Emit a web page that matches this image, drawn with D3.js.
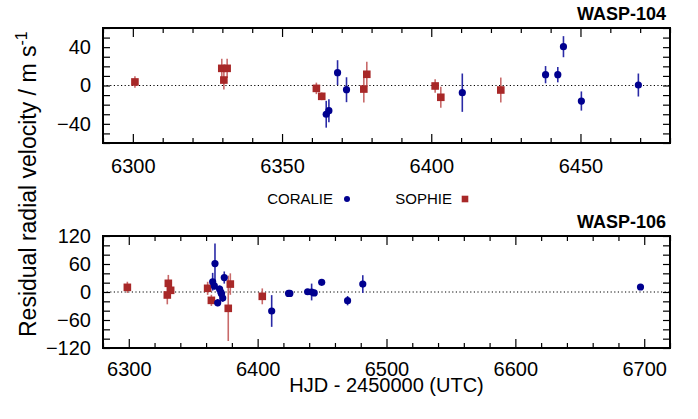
<!DOCTYPE html>
<html><head><meta charset="utf-8">
<script src="https://cdn.jsdelivr.net/npm/d3@7"></script>
<style>
html,body{margin:0;padding:0;background:#fff;}
svg{display:block;font-family:"Liberation Sans",Arial,Helvetica,sans-serif;}
</style></head>
<body><svg id="c" width="698" height="419"></svg>
<script>
// ---- Data ----
// WASP-104 (top panel)
const w104CoralieT   = [6364.8, 6365.7, 6368.6, 6371.6, 6410.4, 6438.3, 6442.4, 6444.3, 6450.3, 6469.4];
const w104CoralieRV  = [-30, -26.3, 13.4, -4.4, -7.5, 11.3, 11.3, 40.5, -16.2, 0.5];
const w104CoralieErr = [14, 12, 13, 13, 20, 9, 8, 11, 10, 12];
const w104SophieT    = [6300.7, 6329.8, 6331.6, 6330.5, 6361.5, 6363.3, 6377.4, 6378.4, 6401.3, 6403.2, 6423.3];
const w104SophieRV   = [3.7, 17.9, 17.9, 5.7, -3, -11.3, -3.7, 11.7, -0.5, -12.3, -4.7];
const w104SophieErr  = [6, 10, 10, 10, 6, 4, 14, 13, 7, 11, 13];
// WASP-106 (bottom panel)
const w106CoralieT   = [6365.1, 6366.4, 6366.9, 6370.5, 6371.5, 6372.9, 6369.0, 6374.1, 6372.0, 6410.9, 6424.0, 6425.0, 6438.8, 6441.9, 6443.9, 6449.7, 6469.8, 6481.6, 6697.1];
const w106CoralieRV  = [22, 13, 61, 6, -1, -13, -23, 31, -4, -40.7, -3, -3, 0.5, 0, -2, 20.7, -18.6, 17, 10.7];
const w106CoralieErr = [19, 8, 43, 8, 6, 8, 8, 13, 6, 34, 4, 4, 5, 18, 5, 5, 10, 19, 4];
const w106SophieT    = [6298.9, 6330.7, 6329.9, 6332.5, 6361.2, 6364.1, 6378.8, 6377.2, 6403.6];
const w106SophieRV   = [10, 18.6, -6.4, 3.6, 7.9, -17.9, 17, -35, -9.3];
const w106SophieErr  = [12, 18, 20, 8, 14, 12, 23, 70, 17];
// Axes
const topXDomain = [6290, 6480], topXTicks = [6300, 6350, 6400, 6450];
const topYDomain = [-60, 60],   topYTicks = [-40, 0, 40];
const botXDomain = [6280, 6720], botXTicks = [6300, 6400, 6500, 6600, 6700];
const botYDomain = [-120, 120], botYTicks = [-120, -60, 0, 60, 120];
const titles = ["WASP-104", "WASP-106"];
const seriesNames = ["CORALIE", "SOPHIE"];
const xTitle = "HJD - 2450000 (UTC)";

// ---- Drawing ----
const svg = d3.select("#c");
const BLUE = "#00008f", BLUE_E = "#2a2aa6", RED = "#a82828", RED_E = "#c86a6a";
const L = 103, R = 670;

function panel(cfg) {
  const x = d3.scaleLinear().domain(cfg.xd).range([L, R]);
  const y = d3.scaleLinear().domain(cfg.yd).range([cfg.bottom, cfg.top]);
  const g = svg.append("g");
  g.append("line").attr("x1", L).attr("x2", R).attr("y1", y(0)).attr("y2", y(0))
    .attr("stroke", "#000").attr("stroke-width", 1).attr("stroke-dasharray", "1.2,2.4");
  const xMinor = d3.range(cfg.xd[0], cfg.xd[1] + 0.001, cfg.xMinorStep).filter(v => !cfg.xt.includes(v));
  const yMinor = d3.range(cfg.yd[0], cfg.yd[1] + 0.001, cfg.yMinorStep).filter(v => !cfg.yt.includes(v));
  const axB = d3.axisBottom(x).tickValues(cfg.xt).tickSize(-9).tickPadding(cfg.xPad).tickFormat(d3.format("d"));
  const axBm = d3.axisBottom(x).tickValues(xMinor).tickSize(-5).tickFormat("");
  const axT = d3.axisTop(x).tickValues(cfg.xt).tickSize(-9).tickFormat("");
  const axTm = d3.axisTop(x).tickValues(xMinor).tickSize(-5).tickFormat("");
  const axL = d3.axisLeft(y).tickValues(cfg.yt).tickSize(-7).tickPadding(12).tickFormat(d3.format("d"));
  const axLm = d3.axisLeft(y).tickValues(yMinor).tickSize(-7).tickFormat("");
  const axR = d3.axisRight(y).tickValues(cfg.yt).tickSize(-7).tickFormat("");
  const axRm = d3.axisRight(y).tickValues(yMinor).tickSize(-7).tickFormat("");
  const add = (ax, tr) => {
    const a = g.append("g").attr("transform", tr).call(ax);
    a.select(".domain").remove();
    a.selectAll("line").attr("stroke", "#000").attr("stroke-width", 1.2);
    a.selectAll("text").attr("fill", "#000").style("font-size", "20px");
    return a;
  };
  add(axB, `translate(0,${cfg.bottom})`);
  add(axBm, `translate(0,${cfg.bottom})`);
  add(axT, `translate(0,${cfg.top})`);
  add(axTm, `translate(0,${cfg.top})`);
  add(axL, `translate(${L},0)`);
  add(axLm, `translate(${L},0)`);
  add(axR, `translate(${R},0)`);
  add(axRm, `translate(${R},0)`);
  g.append("rect").attr("x", L).attr("y", cfg.top).attr("width", R - L).attr("height", cfg.bottom - cfg.top)
    .attr("fill", "none").attr("stroke", "#000").attr("stroke-width", 2);

  const mk = g.append("g");
  function series(T, V, E, col, ecol, shape) {
    const d = T.map((t, i) => ({t, v: V[i], e: E[i]}));
    mk.selectAll(null).data(d).enter().append("line")
      .attr("x1", p => x(p.t)).attr("x2", p => x(p.t))
      .attr("y1", p => y(Math.max(p.v - p.e, cfg.yd[0]))).attr("y2", p => y(Math.min(p.v + p.e, cfg.yd[1])))
      .attr("stroke", ecol).attr("stroke-width", 1.6);
    if (shape === "circle") {
      mk.selectAll(null).data(d).enter().append("circle")
        .attr("cx", p => x(p.t)).attr("cy", p => y(p.v)).attr("r", 3.6).attr("fill", col);
    } else {
      mk.selectAll(null).data(d).enter().append("rect")
        .attr("x", p => x(p.t) - 3.8).attr("y", p => y(p.v) - 3.8).attr("width", 7.6).attr("height", 7.6).attr("fill", col);
    }
  }
  series(cfg.sT, cfg.sV, cfg.sE, RED, RED_E, "square");
  series(cfg.cT, cfg.cV, cfg.cE, BLUE, BLUE_E, "circle");
  svg.append("text").attr("x", 666).attr("y", cfg.titleY).attr("text-anchor", "end")
    .style("font-size", "18px").style("font-weight", "bold").text(cfg.title);
}

panel({xd: topXDomain, yd: topYDomain, xt: topXTicks, yt: topYTicks, xMinorStep: 10, yMinorStep: 10,
  top: 28, bottom: 143, title: titles[0], titleY: 20, xPad: 16,
  cT: w104CoralieT, cV: w104CoralieRV, cE: w104CoralieErr,
  sT: w104SophieT, sV: w104SophieRV, sE: w104SophieErr});
panel({xd: botXDomain, yd: botYDomain, xt: botXTicks, yt: botYTicks, xMinorStep: 20, yMinorStep: 20,
  top: 236, bottom: 348, title: titles[1], titleY: 228, xPad: 14,
  cT: w106CoralieT, cV: w106CoralieRV, cE: w106CoralieErr,
  sT: w106SophieT, sV: w106SophieRV, sE: w106SophieErr});

// legend
svg.append("text").attr("x", 333).attr("y", 204).attr("text-anchor", "end").style("font-size", "15px").text(seriesNames[0]);
svg.append("circle").attr("cx", 347).attr("cy", 199).attr("r", 3).attr("fill", BLUE);
svg.append("text").attr("x", 452).attr("y", 204).attr("text-anchor", "end").style("font-size", "15px").text(seriesNames[1]);
svg.append("rect").attr("x", 461.7).attr("y", 195.7).attr("width", 6.6).attr("height", 6.6).attr("fill", RED);

// axis titles
svg.append("text").attr("x", 386.5).attr("y", 392).attr("text-anchor", "middle").style("font-size", "20px").text(xTitle);
const yl = svg.append("text").attr("transform", "translate(36,337) rotate(-90)").attr("text-anchor", "start").style("font-size", "23px");
yl.append("tspan").text("Residual radial velocity / m s");
yl.append("tspan").attr("dy", -9).style("font-size", "16px").text("-1");
</script></body></html>
